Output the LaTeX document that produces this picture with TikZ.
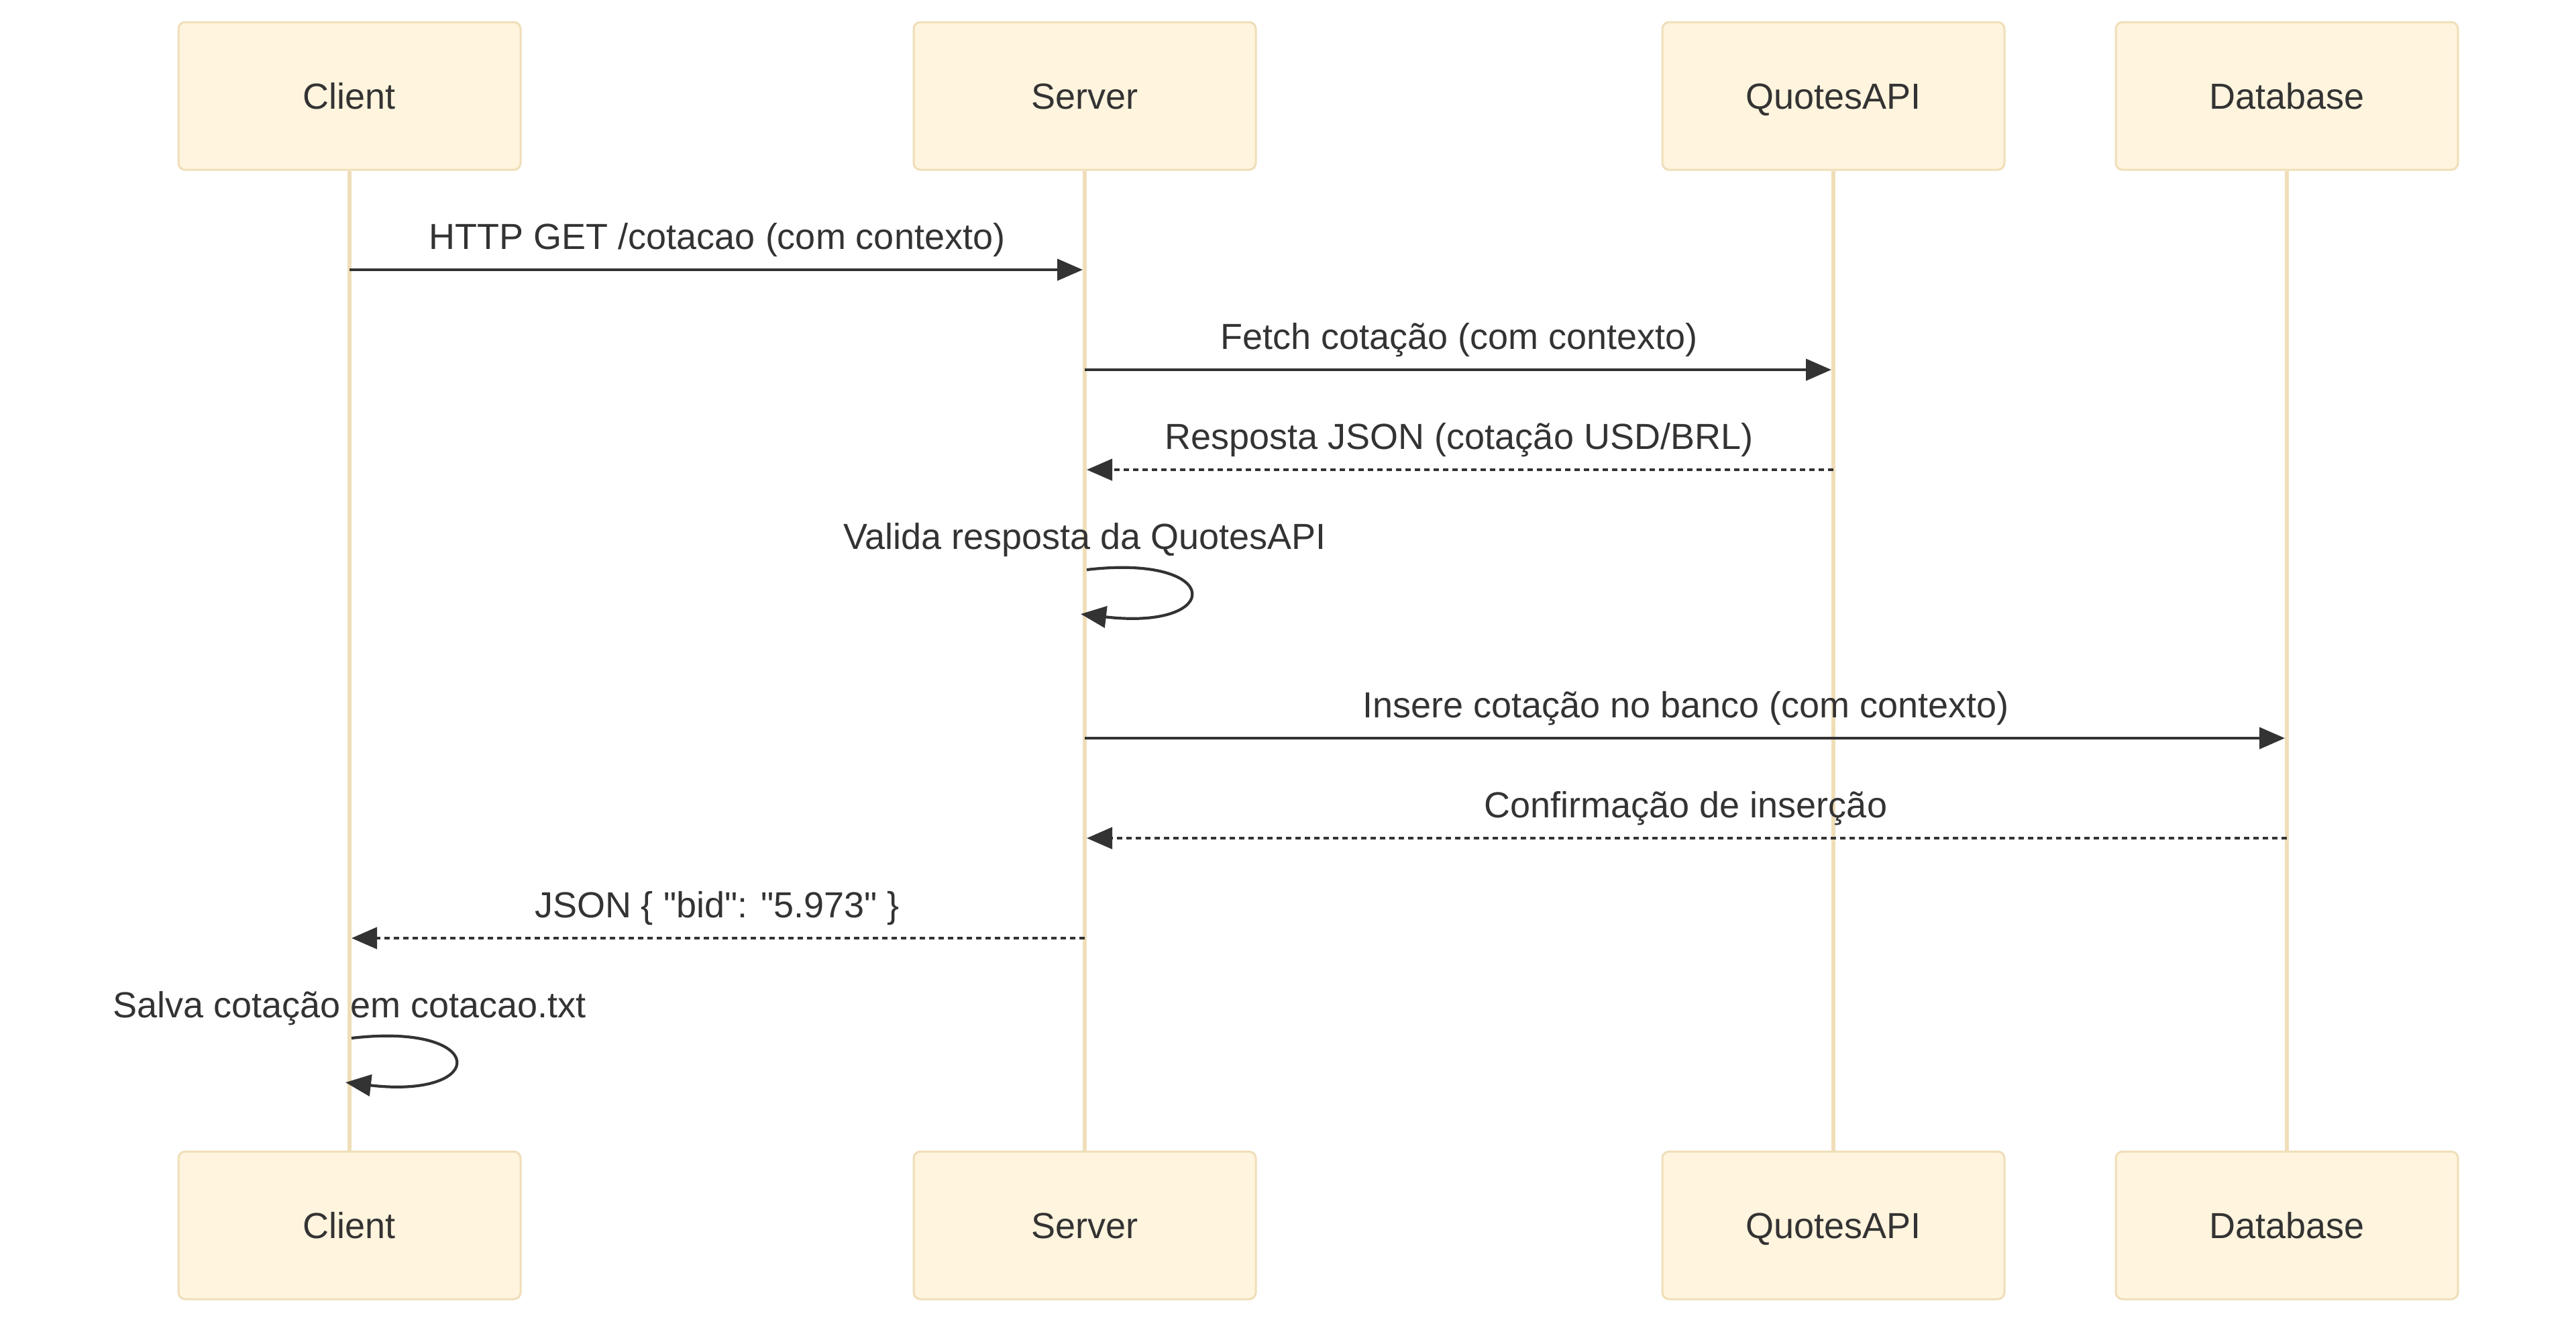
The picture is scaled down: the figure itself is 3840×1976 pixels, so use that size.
\documentclass[tikz,border=0pt]{standalone}
\usepackage{fontspec}
\setmainfont{Liberation Sans}[Ligatures=TeXOff]
\usetikzlibrary{arrows.meta,calc}
\definecolor{actfill}{HTML}{FFF4DE}
\definecolor{actline}{HTML}{EFDEB8}
\definecolor{ink}{HTML}{333333}
\begin{document}
\begin{tikzpicture}[x=0.5pt,y=-0.5pt,
  font=\fontsize{27pt}{32pt}\selectfont,
  actor/.style={draw=actline, fill=actfill, line width=1.5pt, rounded corners=5pt,
    minimum width=255pt, minimum height=110pt, text=ink, inner sep=0pt,
    text height=19.3pt, text depth=0pt},
  life/.style={draw=actline, line width=3pt},
  msg/.style={draw=ink, line width=2.1pt, shorten >=1.5pt,
    -{Triangle[length=19pt,width=16pt]}},
  reply/.style={msg, dash pattern=on 4pt off 3pt},
  selfmsg/.style={draw=ink, line width=2.1pt, -{Triangle[length=19pt,width=16pt]}},
  lbl/.style={text=ink, anchor=base, inner sep=0pt}]
\useasboundingbox (0,0) rectangle (3840,1976);

% actors
\node[actor] (cT) at (521,143) {Client};
\node[actor] (sT) at (1617,143) {Server};
\node[actor] (qT) at (2733,143) {QuotesAPI};
\node[actor] (dT) at (3409,143) {Database};
\node[actor] (cB) at (521,1826) {Client};
\node[actor] (sB) at (1617,1826) {Server};
\node[actor] (qB) at (2733,1826) {QuotesAPI};
\node[actor] (dB) at (3409,1826) {Database};

% lifelines
\draw[life] (cT.south) -- (cB.north);
\draw[life] (sT.south) -- (sB.north);
\draw[life] (qT.south) -- (qB.north);
\draw[life] (dT.south) -- (dB.north);

% rows
\coordinate (r1) at (0,402);
\coordinate (r2) at (0,551);
\coordinate (r3) at (0,700);
\coordinate (l1) at (0,849);
\coordinate (l1e) at (0,915);
\coordinate (r5) at (0,1100);
\coordinate (r6) at (0,1249);
\coordinate (r7) at (0,1398);
\coordinate (l2) at (0,1547);
\coordinate (l2e) at (0,1613);

% messages
\draw[msg] (cT |- r1) -- (sT |- r1);
\node[lbl] (t1) at ($(cT |- r1)!0.5!(sT |- r1)+(0,-31)$) {HTTP GET /cotacao (com contexto)};

\draw[msg] (sT |- r2) -- (qT |- r2);
\node[lbl] (t2) at ($(sT |- r2)!0.5!(qT |- r2)+(0,-31)$) {Fetch cotação (com contexto)};

\draw[reply] (qT |- r3) -- (sT |- r3);
\node[lbl] (t3) at ($(sT |- r3)!0.5!(qT |- r3)+(0,-31)$) {Resposta JSON (cotação USD/BRL)};

\node[lbl] (t4) at ($(sT |- l1)+(0,-31)$) {Valida resposta da QuotesAPI};
\draw[selfmsg] ($(sT |- l1)+(3,0)$) .. controls +(205,-24) and +(214,25) .. ($(sT |- l1e)+(-6,0)$);

\draw[msg] (sT |- r5) -- (dT |- r5);
\node[lbl] (t5) at ($(sT |- r5)!0.5!(dT |- r5)+(0,-31)$) {Insere cotação no banco (com contexto)};

\draw[reply] (dT |- r6) -- (sT |- r6);
\node[lbl] (t6) at ($(sT |- r6)!0.5!(dT |- r6)+(0,-31)$) {Confirmação de inserção};

\draw[reply] (sT |- r7) -- (cT |- r7);
\node[lbl] (t7) at ($(cT |- r7)!0.5!(sT |- r7)+(0,-31)$) {JSON \{ "bid": "5.973" \}};

\node[lbl] (t8) at ($(cT |- l2)+(0,-31)$) {Salva cotação em cotacao.txt};
\draw[selfmsg] ($(cT |- l2)+(3,0)$) .. controls +(205,-24) and +(214,25) .. ($(cT |- l2e)+(-6,0)$);
\end{tikzpicture}
\end{document}
